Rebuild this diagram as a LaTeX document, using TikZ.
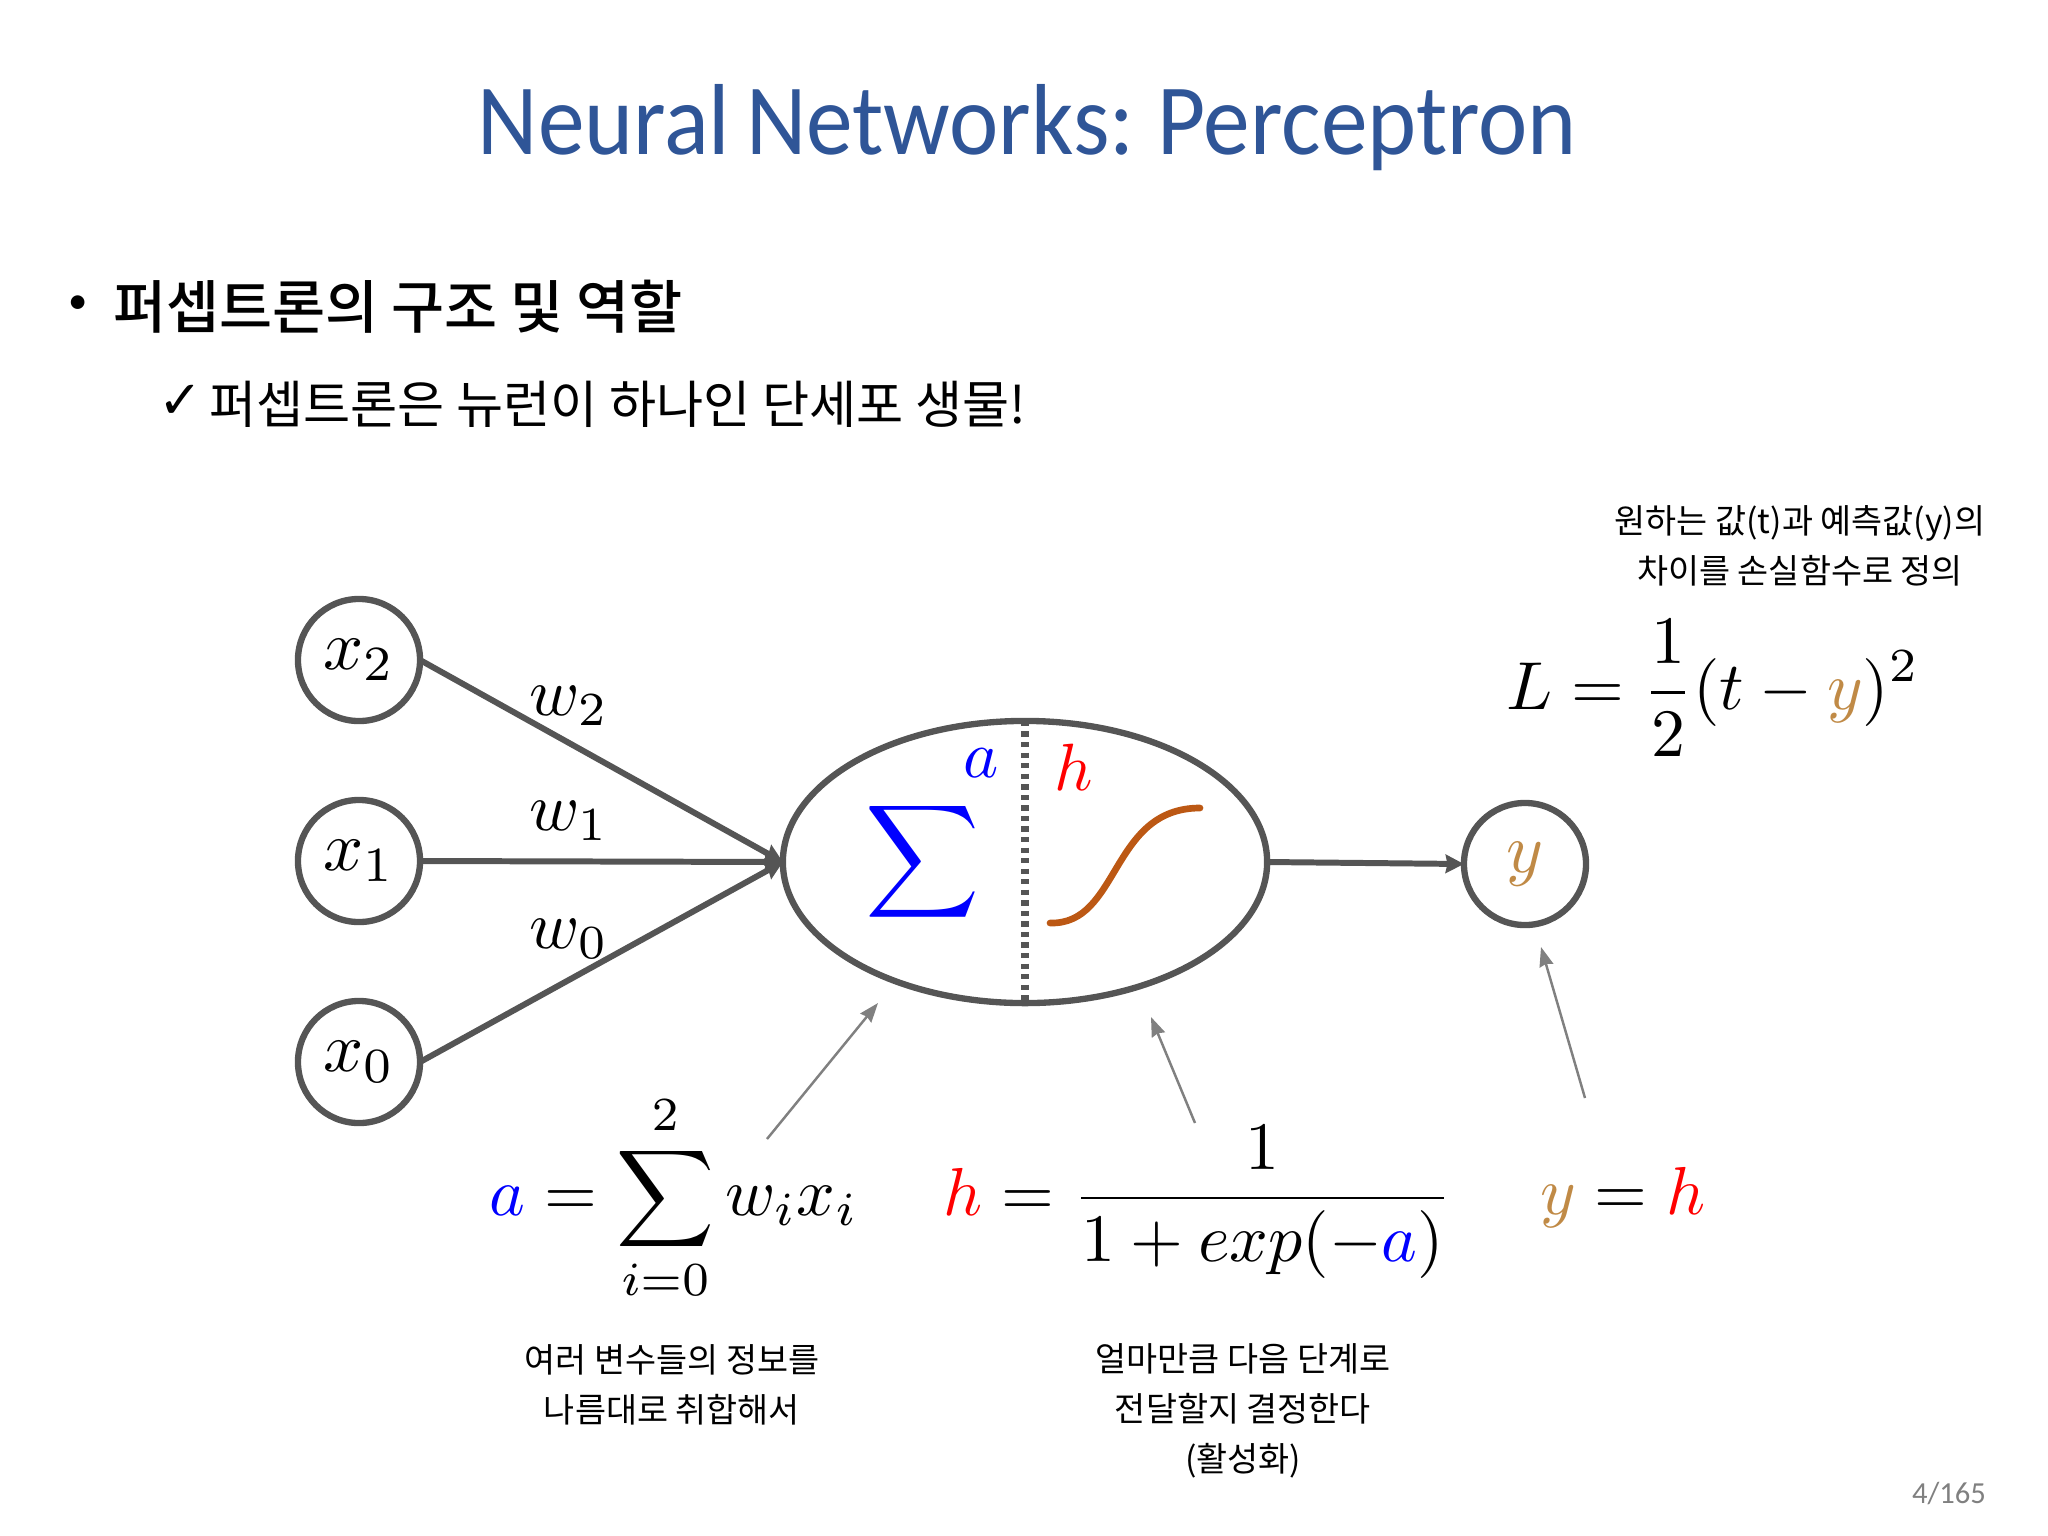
\documentclass[tikz,border=0pt]{standalone}
\usepackage{amsmath,amsfonts,amssymb}
\usepackage{xcolor}
\usepackage{fontspec}
\setmainfont{Carlito}
\newfontfamily\titlefont[WordSpace=0.75,FakeStretch=0.925]{Carlito}
\newfontfamily\krfont[BoldFont={Noto Sans CJK KR Medium}]{Noto Sans CJK KR}
\newfontfamily\markfont{DejaVu Sans}
\usetikzlibrary{shapes.geometric,arrows.meta}
\definecolor{titleblue}{RGB}{47, 85, 151}
\definecolor{neurongray}{RGB}{85, 85, 85}
\definecolor{pointergray}{RGB}{128, 128, 128}
\definecolor{outputbrown}{RGB}{192, 138, 70}
\definecolor{sigmoidorange}{RGB}{188, 88, 20}
\tikzset{
    inputnode/.style={circle,draw=neurongray,line width=1.8pt,inner sep=0pt,outer sep=0pt,scale=2.0,minimum size=0.61cm},
    neuronedge/.style={neurongray,line width=1.7pt,-{Stealth[length=5.2pt,width=5.2pt,inset=0.5pt]}},
    pointer/.style={pointergray,line width=0.7pt,-{Stealth[length=5.5pt,width=4pt,inset=0.5pt]}},
    formula/.style={scale=1.93},
    note/.style={font=\krfont\fontsize{9.6}{14.2}\selectfont,align=center}
}
\begin{document}
\begin{tikzpicture}[x=0.01cm,y=-0.01cm]
    \useasboundingbox (0,0) rectangle (2048,1536);

    % Title and bullets
    \node[text=titleblue,font=\titlefont\fontsize{28.7}{32}\selectfont] (title) at (1027,128) {Neural Networks: Perceptron};
    \node[font=\fontsize{11}{14}\selectfont] (dot) at (78,305) {•};
    \node[anchor=west,font=\krfont\bfseries\fontsize{16.4}{20}\selectfont] (heading) at (101,307) {퍼셉트론의 구조 및 역할};
    \node[font=\markfont\fontsize{15}{18}\selectfont] (check) at (181,402) {✓};
    \node[anchor=west,font=\krfont\fontsize{14.57}{18}\selectfont] (subheading) at (197,404) {퍼셉트론은 뉴런이 하나인 단세포 생물!};

    % Inputs and weights
    \foreach \i/\y/\wy in {2/660/706,1/861/821,0/1062/939}
    {
        \node[inputnode] (x\i) at (359,\y) {$x_\i$};
        \node[scale=1.93] (w\i) at (569,\wy) {$w_\i$};
    }

    % Neuron
    \node[ellipse,draw=neurongray,line width=1.8pt,inner sep=0pt,outer sep=0pt,minimum width=4.84cm,minimum height=2.82cm] (neuron) at (1025,862) {};
    \draw[neurongray,line width=2pt,dash pattern=on 1.5pt off 1.5pt] (neuron.north) -- (neuron.south);
    \node[scale=2.25,text=blue] (sigma) at (923,862) {$\displaystyle\sum$};
    \node[scale=1.9,text=blue] (a) at (981,763) {$a$};
    \node[scale=1.9,text=red] (h) at (1074,767) {$h$};
    \draw[sigmoidorange,line width=1.9pt,line cap=round] (1050,923) .. controls (1120,925) and (1110,808) .. (1200,808);

    % Output
    \node[inputnode,text=outputbrown] (y) at (1525,864) {$y$};

    % Connections
    \foreach \i in {2,1,0}
        \draw[neuronedge] (x\i.east) -- (neuron.west);
    \draw[neuronedge] (neuron.east) -- (y.west);

    % Formulas
    \node[formula] (sumeq) at (674,1198) {$\displaystyle \textcolor{blue}{a}=\sum_{i=0}^{2}w_ix_i$};
    \node[formula] (heq) at (1198,1202) {$\displaystyle \textcolor{red}{h}=\frac{1}{1+exp(-\textcolor{blue}{a})}$};
    \node[formula] (yeq) at (1623,1198) {$\displaystyle \textcolor{outputbrown}{y}=\textcolor{red}{h}$};
    \node[formula] (loss) at (1713,688) {$\displaystyle L=\frac{1}{2}(t-\textcolor{outputbrown}{y})^2$};

    % Pointers
    \coordinate (sumtail) at (767,1139);
    \coordinate (sumtip) at (878,1003);
    \coordinate (htail) at (1195,1123);
    \coordinate (htip) at (1151,1017);
    \coordinate (ytail) at (1585,1098);
    \coordinate (ytip) at (1541,947);
    \draw[pointer] (sumtail) -- (sumtip);
    \draw[pointer] (htail) -- (htip);
    \draw[pointer] (ytail) -- (ytip);

    % Notes
    \node[note] (lossnote) at (1800,546) {원하는 값(t)과 예측값(y)의\\차이를 손실함수로 정의};
    \node[note] (sumnote) at (672,1385) {여러 변수들의 정보를\\나름대로 취합해서};
    \node[note] (hnote) at (1243,1411) {얼마만큼 다음 단계로\\전달할지 결정한다\\(활성화)};

    % Page number
    \node[text=pointergray,font=\fontsize{8.7}{10}\selectfont] (page) at (1949,1494) {4/165};
\end{tikzpicture}
\end{document}
